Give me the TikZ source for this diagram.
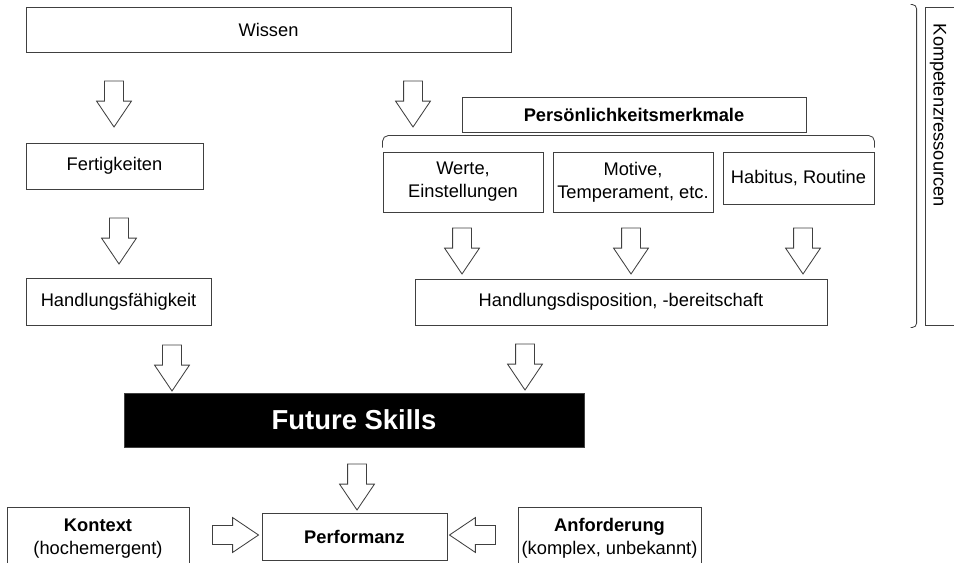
\documentclass[tikz,border=0pt]{standalone}
\usepackage{fontspec}
\setmainfont{Liberation Sans}
\usetikzlibrary{shapes.arrows}

\begin{document}
\begin{tikzpicture}[x=0.025cm,y=-0.025cm,
  box/.style={draw=black!75,line width=0.6pt,fill=white,align=center,inner sep=2pt,font=\fontsize{13}{16.5}\selectfont},
  blk/.style={single arrow,draw=black!75,line width=0.6pt,fill=white,inner sep=0.225cm,
    minimum height=1.15cm,single arrow head extend=0.2cm,single arrow tip angle=68},
  down/.style={blk,rotate=-90}, right/.style={blk}, left/.style={blk,rotate=180}]
\useasboundingbox (0,0) rectangle (954,563);

% obere Reihe
\node[box,minimum width=12.125cm,minimum height=1.125cm] (wissen) at (268.5,29.5) {Wissen};
\node[box,minimum width=4.425cm,minimum height=1.15cm] (fertig) at (114.5,166) {Fertigkeiten};
\node[box,minimum width=4.625cm,minimum height=1.175cm] (handfaeh) at (118.5,302) {Handlungsfähigkeit};
\node[box,minimum width=8.6cm,minimum height=0.875cm,font=\fontsize{13}{16.5}\selectfont\bfseries] (pers) at (634,114.5) {Persönlichkeitsmerkmale};
\node[box,minimum width=4cm,minimum height=1.5cm] (werte) at (463,182) {Werte,\\Einstellungen};
\node[box,minimum width=4cm,minimum height=1.5cm] (motive) at (633,182) {Motive,\\Temperament, etc.};
\node[box,minimum width=3.775cm,minimum height=1.3cm] (habitus) at (798.5,178) {Habitus, Routine};
\node[box,minimum width=10.3cm,minimum height=1.15cm] (hdisp) at (621,302) {Handlungsdisposition, -bereitschaft};

% Future Skills
\node[box,fill=black,text=white,minimum width=11.5cm,minimum height=1.35cm,font=\fontsize{19.5}{22}\selectfont\bfseries] (future) at (354,420) {Future Skills};

% untere Reihe
\node[box,minimum width=4.55cm,minimum height=1.575cm] (kontext) at (98,538.5) {\textbf{Kontext}\\(hochemergent)};
\node[box,minimum width=4.625cm,minimum height=1.175cm,font=\fontsize{13}{16.5}\selectfont\bfseries] (perf) at (354.5,536.5) {Performanz};
\node[box,minimum width=4.575cm,minimum height=1.575cm] (anford) at (609.5,538.5) {\textbf{Anforderung}\\(komplex, unbekannt)};

% Kompetenzressourcen
\node[box,minimum width=1cm,minimum height=7.95cm] (kbox) at (945,166) {};
\node[rotate=-90,anchor=west,font=\fontsize{13}{16.5}\selectfont] (ktext) at (938,19) {Kompetenzressourcen};
\draw[draw=black!75,line width=0.6pt,rounded corners=3pt] ([xshift=-0.35cm,yshift=0.05cm]kbox.north west) -| ([xshift=-0.2cm]kbox.west) |- ([xshift=-0.35cm,yshift=-0.05cm]kbox.south west);

% Klammer
\draw[draw=black!75,line width=0.6pt,rounded corners=4pt] ([yshift=0.1cm]werte.north west) -- ([yshift=0.4cm]werte.north west) -- ([yshift=0.4cm]habitus.north east) -- ([yshift=0.1cm]habitus.north east);

% Pfeile
\node[down] (a1) at (114,97) {};
\node[down] (a2) at (413,97) {};
\node[down] (a3) at (119,234) {};
\node[down] (a4) at (172,361) {};
\node[down] (a5) at (525,360) {};
\node[down] (a6) at (462,244) {};
\node[down] (a7) at (631,244) {};
\node[down] (a8) at (803,244) {};
\node[down] (a9) at (357,480) {};
\node[right] (a10) at (228.5,535) {};
\node[left] (a11) at (479.5,535) {};
\end{tikzpicture}
\end{document}
